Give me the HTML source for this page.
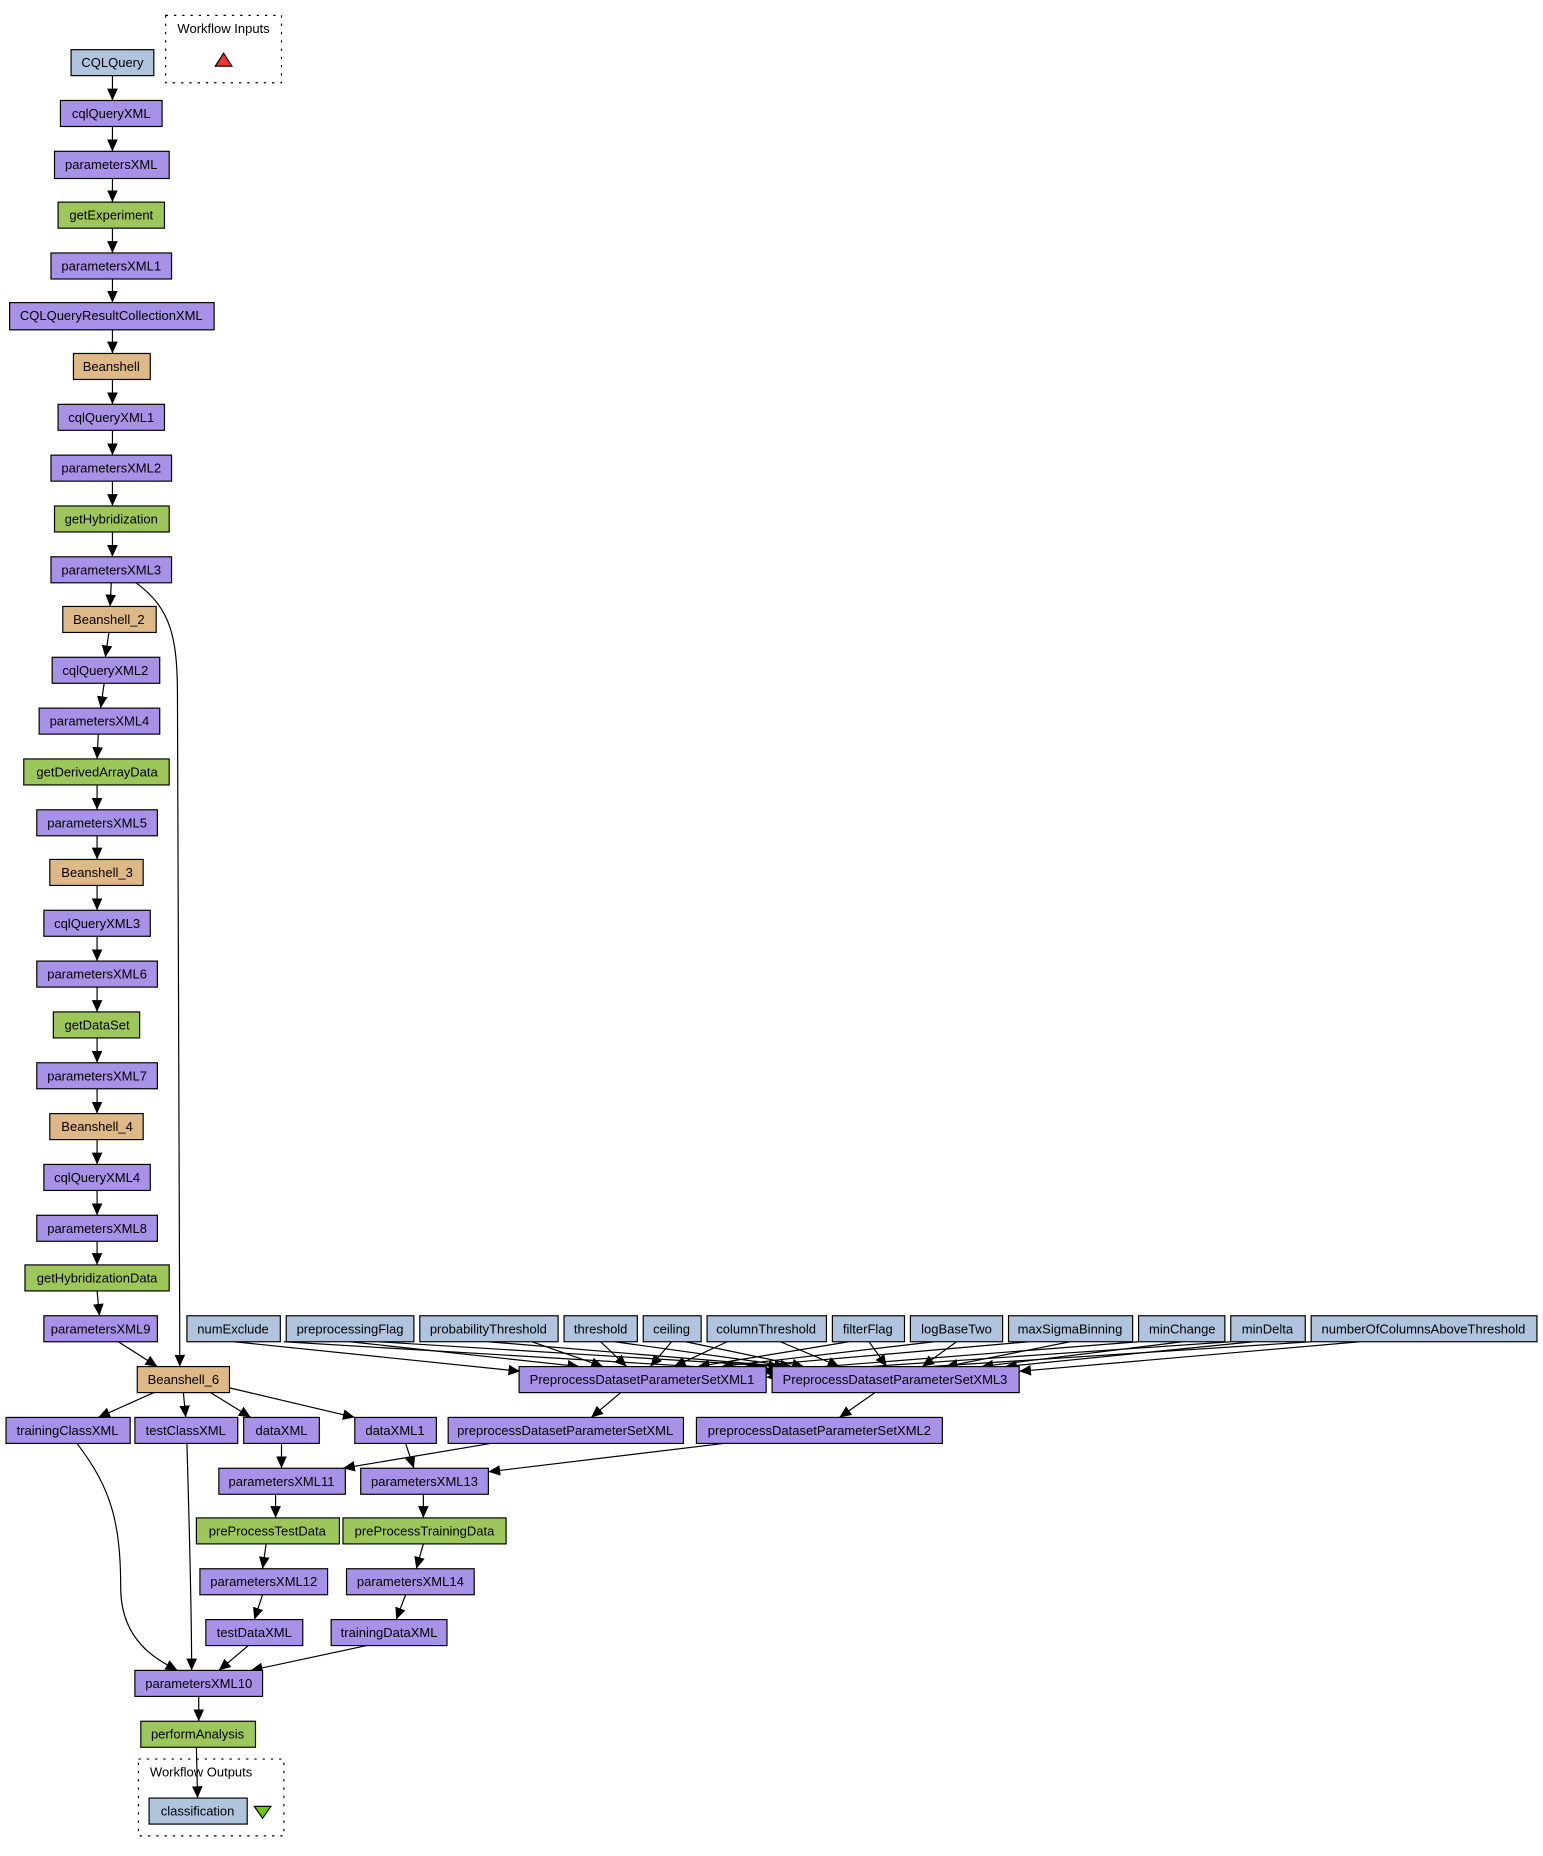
<!DOCTYPE html>
<html><head><meta charset="utf-8"><style>
html,body{margin:0;padding:0;background:#fff}
svg{display:block}
text{font-family:"Liberation Sans",sans-serif;font-size:11px;fill:#000;stroke:none;text-anchor:middle;dominant-baseline:central}
.b{stroke:#000;stroke-width:1}
.p{fill:#a792e8}.g{fill:#9dc75a}.t{fill:#deb887}.s{fill:#b0c4de}
.e{stroke:#000;stroke-width:1;fill:none;marker-end:url(#a)}
</style></head><body>
<svg width="1543" height="1856" viewBox="0 0 1305 1570" xmlns="http://www.w3.org/2000/svg">
<defs><marker id="a" markerWidth="12" markerHeight="12" refX="10" refY="4.5" orient="auto" markerUnits="userSpaceOnUse"><path d="M0,0 L10,4.5 L0,9 z" fill="#000"/></marker></defs>
<rect x="140" y="13" width="98" height="57" fill="none" stroke="#000" stroke-dasharray="2,5"/>
<text x="189" y="24">Workflow Inputs</text>
<polygon points="182,56 196,56 189,45" fill="#ee3333" stroke="#000"/>
<rect x="117" y="1488" width="123" height="65" fill="none" stroke="#000" stroke-dasharray="2,5"/>
<text x="170" y="1499">Workflow Outputs</text>
<polygon points="215,1528 229,1528 222,1538" fill="#66cc00" stroke="#000"/>
<g>
<line class="e" x1="95" y1="64" x2="95" y2="85"/>
<line class="e" x1="95" y1="107" x2="95" y2="128"/>
<line class="e" x1="95" y1="151" x2="95" y2="171"/>
<line class="e" x1="95" y1="193" x2="95" y2="214"/>
<line class="e" x1="95" y1="236" x2="95" y2="256"/>
<line class="e" x1="95" y1="279" x2="95" y2="299"/>
<line class="e" x1="95" y1="321" x2="95" y2="342"/>
<line class="e" x1="95" y1="364" x2="95" y2="385"/>
<line class="e" x1="95" y1="407" x2="95" y2="428"/>
<line class="e" x1="95" y1="450" x2="95" y2="471"/>
<line class="e" x1="94" y1="493" x2="93" y2="513"/>
<line class="e" x1="92" y1="535" x2="89" y2="556"/>
<line class="e" x1="88" y1="578" x2="85" y2="599"/>
<line class="e" x1="83" y1="621" x2="82" y2="642"/>
<line class="e" x1="82" y1="664" x2="82" y2="685"/>
<line class="e" x1="82" y1="707" x2="82" y2="727"/>
<line class="e" x1="82" y1="749" x2="82" y2="770"/>
<line class="e" x1="82" y1="792" x2="82" y2="813"/>
<line class="e" x1="82" y1="835" x2="82" y2="856"/>
<line class="e" x1="82" y1="878" x2="82" y2="899"/>
<line class="e" x1="82" y1="921" x2="82" y2="942"/>
<line class="e" x1="82" y1="964" x2="82" y2="985"/>
<line class="e" x1="82" y1="1007" x2="82" y2="1028"/>
<line class="e" x1="82" y1="1050" x2="82" y2="1070"/>
<line class="e" x1="82" y1="1092" x2="84" y2="1113"/>
<line class="e" x1="100" y1="1135" x2="133" y2="1156"/>
<path class="e" d="M115,493 C145,515 150,540 150,590 L152,1156"/>
<line class="e" x1="130" y1="1178" x2="83" y2="1199"/>
<line class="e" x1="155" y1="1178" x2="157" y2="1199"/>
<line class="e" x1="178" y1="1178" x2="212" y2="1199"/>
<line class="e" x1="194" y1="1174" x2="300" y2="1199"/>
<path class="e" d="M65,1221 C95,1260 102,1290 102,1345 C103,1390 135,1405 150,1413"/>
<path class="e" d="M158,1221 C160,1290 162,1370 162,1413"/>
<line class="e" x1="238" y1="1221" x2="238" y2="1242"/>
<line class="e" x1="415" y1="1221" x2="290" y2="1242"/>
<line class="e" x1="343" y1="1221" x2="350" y2="1242"/>
<line class="e" x1="612" y1="1221" x2="413" y2="1245"/>
<line class="e" x1="525" y1="1178" x2="500" y2="1199"/>
<line class="e" x1="740" y1="1178" x2="710" y2="1199"/>
<line class="e" x1="233" y1="1264" x2="233" y2="1284"/>
<line class="e" x1="358" y1="1264" x2="358" y2="1284"/>
<line class="e" x1="225" y1="1306" x2="222" y2="1327"/>
<line class="e" x1="358" y1="1306" x2="352" y2="1327"/>
<line class="e" x1="222" y1="1349" x2="215" y2="1370"/>
<line class="e" x1="343" y1="1349" x2="335" y2="1370"/>
<line class="e" x1="210" y1="1392" x2="185" y2="1413"/>
<line class="e" x1="310" y1="1392" x2="212" y2="1413"/>
<line class="e" x1="168" y1="1435" x2="168" y2="1456"/>
<line class="e" x1="166" y1="1478" x2="167" y2="1521"/>
<line class="e" x1="198" y1="1135" x2="440" y2="1160"/>
<line class="e" x1="240" y1="1135" x2="655" y2="1160"/>
<line class="e" x1="296" y1="1135" x2="490" y2="1156"/>
<line class="e" x1="320" y1="1135" x2="660" y2="1156"/>
<line class="e" x1="450" y1="1135" x2="510" y2="1156"/>
<line class="e" x1="413" y1="1135" x2="665" y2="1156"/>
<line class="e" x1="508" y1="1135" x2="530" y2="1156"/>
<line class="e" x1="520" y1="1135" x2="670" y2="1156"/>
<line class="e" x1="568" y1="1135" x2="550" y2="1156"/>
<line class="e" x1="580" y1="1135" x2="680" y2="1156"/>
<line class="e" x1="615" y1="1135" x2="570" y2="1156"/>
<line class="e" x1="660" y1="1135" x2="710" y2="1156"/>
<line class="e" x1="718" y1="1135" x2="590" y2="1156"/>
<line class="e" x1="735" y1="1135" x2="750" y2="1156"/>
<line class="e" x1="790" y1="1135" x2="610" y2="1156"/>
<line class="e" x1="809" y1="1135" x2="780" y2="1156"/>
<line class="e" x1="870" y1="1135" x2="630" y2="1156"/>
<line class="e" x1="905" y1="1135" x2="800" y2="1156"/>
<line class="e" x1="963" y1="1135" x2="645" y2="1160"/>
<line class="e" x1="1000" y1="1135" x2="830" y2="1156"/>
<line class="e" x1="1041" y1="1135" x2="648" y2="1162"/>
<line class="e" x1="1060" y1="1135" x2="850" y2="1156"/>
<line class="e" x1="1109" y1="1135" x2="648" y2="1165"/>
<line class="e" x1="1150" y1="1135" x2="862" y2="1160"/>
</g>
<g>
<rect class="s b" x="60" y="42" width="70" height="22"/><text x="95" y="53">CQLQuery</text>
<rect class="p b" x="51" y="85" width="86" height="22"/><text x="94" y="96">cqlQueryXML</text>
<rect class="p b" x="46" y="128" width="97" height="23"/><text x="94" y="139">parametersXML</text>
<rect class="g b" x="49" y="171" width="90" height="22"/><text x="94" y="182">getExperiment</text>
<rect class="p b" x="43" y="214" width="102" height="22"/><text x="94" y="225">parametersXML1</text>
<rect class="p b" x="8" y="256" width="173" height="23"/><text x="94" y="267">CQLQueryResultCollectionXML</text>
<rect class="t b" x="62" y="299" width="65" height="22"/><text x="94" y="310">Beanshell</text>
<rect class="p b" x="49" y="342" width="90" height="22"/><text x="94" y="353">cqlQueryXML1</text>
<rect class="p b" x="43" y="385" width="102" height="22"/><text x="94" y="396">parametersXML2</text>
<rect class="g b" x="46" y="428" width="97" height="22"/><text x="94" y="439">getHybridization</text>
<rect class="p b" x="43" y="471" width="102" height="22"/><text x="94" y="482">parametersXML3</text>
<rect class="t b" x="53" y="513" width="79" height="22"/><text x="92" y="524">Beanshell_2</text>
<rect class="p b" x="44" y="556" width="91" height="22"/><text x="89" y="567">cqlQueryXML2</text>
<rect class="p b" x="33" y="599" width="102" height="22"/><text x="84" y="610">parametersXML4</text>
<rect class="g b" x="20" y="642" width="123" height="22"/><text x="82" y="653">getDerivedArrayData</text>
<rect class="p b" x="31" y="685" width="102" height="22"/><text x="82" y="696">parametersXML5</text>
<rect class="t b" x="42" y="727" width="79" height="22"/><text x="82" y="738">Beanshell_3</text>
<rect class="p b" x="37" y="770" width="90" height="22"/><text x="82" y="781">cqlQueryXML3</text>
<rect class="p b" x="31" y="813" width="102" height="22"/><text x="82" y="824">parametersXML6</text>
<rect class="g b" x="45" y="856" width="73" height="22"/><text x="82" y="867">getDataSet</text>
<rect class="p b" x="31" y="899" width="102" height="22"/><text x="82" y="910">parametersXML7</text>
<rect class="t b" x="42" y="942" width="79" height="22"/><text x="82" y="953">Beanshell_4</text>
<rect class="p b" x="37" y="985" width="90" height="22"/><text x="82" y="996">cqlQueryXML4</text>
<rect class="p b" x="31" y="1028" width="102" height="22"/><text x="82" y="1039">parametersXML8</text>
<rect class="g b" x="21" y="1070" width="122" height="22"/><text x="82" y="1081">getHybridizationData</text>
<rect class="p b" x="37" y="1113" width="96" height="22"/><text x="85" y="1124">parametersXML9</text>
<rect class="t b" x="116" y="1156" width="78" height="22"/><text x="155" y="1167">Beanshell_6</text>
<rect class="s b" x="158" y="1113" width="79" height="22"/><text x="197" y="1124">numExclude</text>
<rect class="s b" x="242" y="1113" width="108" height="22"/><text x="296" y="1124">preprocessingFlag</text>
<rect class="s b" x="355" y="1113" width="117" height="22"/><text x="413" y="1124">probabilityThreshold</text>
<rect class="s b" x="477" y="1113" width="62" height="22"/><text x="508" y="1124">threshold</text>
<rect class="s b" x="544" y="1113" width="49" height="22"/><text x="568" y="1124">ceiling</text>
<rect class="s b" x="598" y="1113" width="101" height="22"/><text x="648" y="1124">columnThreshold</text>
<rect class="s b" x="704" y="1113" width="61" height="22"/><text x="734" y="1124">filterFlag</text>
<rect class="s b" x="770" y="1113" width="78" height="22"/><text x="809" y="1124">logBaseTwo</text>
<rect class="s b" x="853" y="1113" width="105" height="22"/><text x="905" y="1124">maxSigmaBinning</text>
<rect class="s b" x="963" y="1113" width="73" height="22"/><text x="1000" y="1124">minChange</text>
<rect class="s b" x="1041" y="1113" width="63" height="22"/><text x="1072" y="1124">minDelta</text>
<rect class="s b" x="1109" y="1113" width="191" height="22"/><text x="1204" y="1124">numberOfColumnsAboveThreshold</text>
<rect class="p b" x="439" y="1156" width="209" height="22"/><text x="543" y="1167">PreprocessDatasetParameterSetXML1</text>
<rect class="p b" x="653" y="1156" width="209" height="22"/><text x="757" y="1167">PreprocessDatasetParameterSetXML3</text>
<rect class="p b" x="5" y="1199" width="105" height="22"/><text x="57" y="1210">trainingClassXML</text>
<rect class="p b" x="114" y="1199" width="87" height="22"/><text x="157" y="1210">testClassXML</text>
<rect class="p b" x="206" y="1199" width="64" height="22"/><text x="238" y="1210">dataXML</text>
<rect class="p b" x="300" y="1199" width="69" height="22"/><text x="334" y="1210">dataXML1</text>
<rect class="p b" x="379" y="1199" width="199" height="22"/><text x="478" y="1210">preprocessDatasetParameterSetXML</text>
<rect class="p b" x="589" y="1199" width="208" height="22"/><text x="693" y="1210">preprocessDatasetParameterSetXML2</text>
<rect class="p b" x="185" y="1242" width="107" height="22"/><text x="238" y="1253">parametersXML11</text>
<rect class="p b" x="305" y="1242" width="108" height="22"/><text x="359" y="1253">parametersXML13</text>
<rect class="g b" x="166" y="1284" width="121" height="22"/><text x="226" y="1295">preProcessTestData</text>
<rect class="g b" x="290" y="1284" width="138" height="22"/><text x="359" y="1295">preProcessTrainingData</text>
<rect class="p b" x="169" y="1327" width="108" height="22"/><text x="223" y="1338">parametersXML12</text>
<rect class="p b" x="293" y="1327" width="108" height="22"/><text x="347" y="1338">parametersXML14</text>
<rect class="p b" x="174" y="1370" width="82" height="22"/><text x="215" y="1381">testDataXML</text>
<rect class="p b" x="280" y="1370" width="98" height="22"/><text x="329" y="1381">trainingDataXML</text>
<rect class="p b" x="114" y="1413" width="108" height="22"/><text x="168" y="1424">parametersXML10</text>
<rect class="g b" x="119" y="1456" width="97" height="22"/><text x="167" y="1467">performAnalysis</text>
<rect class="s b" x="126" y="1521" width="83" height="22"/><text x="167" y="1532">classification</text>
</g>
</svg>
</body></html>
